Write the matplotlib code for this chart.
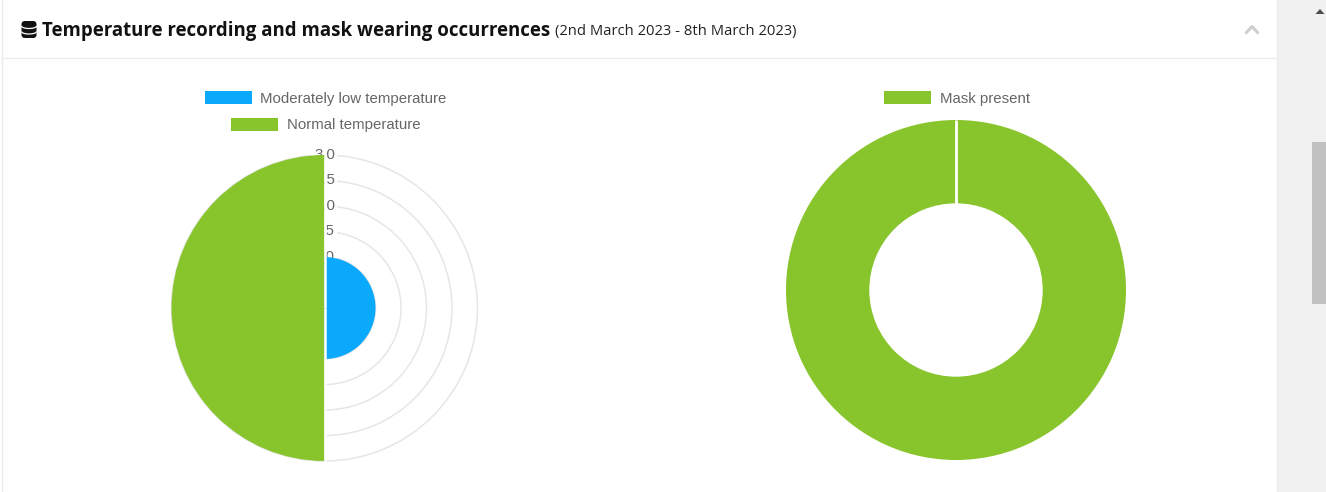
import numpy as np
import matplotlib
matplotlib.use("Agg")
import matplotlib.pyplot as plt
from matplotlib.patches import Rectangle, FancyBboxPatch, Arc

W, H = 1326, 492

# Chart data
temperature_labels = ["Moderately low temperature", "Normal temperature"]
temperature_counts = [1, 3]
mask_labels = ["Mask present"]
mask_counts = [7]
radial_ticks = [0.5, 1.0, 1.5, 2.0, 2.5, 3.0]
radial_tick_labels = ["0.5", "1.0", "1.5", "2.0", "2.5", "3.0"]

title_main = "Temperature recording and mask wearing occurrences"
title_dates = "(2nd March 2023 - 8th March 2023)"

BLUE = "#0aa9fc"
GREEN = "#88c42b"
GREY_TEXT = "#666666"

fig = plt.figure(figsize=(W / 100, H / 100), dpi=100, facecolor="white")


def px_axes(cx, cy, r, **kw):
    """Square axes of radius r px centred on pixel (cx, cy)."""
    return fig.add_axes([(cx - r) / W, 1 - (cy + r) / H, 2 * r / W, 2 * r / H], **kw)


# Page furniture, in pixel coordinates
page = fig.add_axes([0, 0, 1, 1], zorder=0)
page.set_xlim(0, W)
page.set_ylim(H, 0)
page.axis("off")
page.add_patch(Rectangle((1278, 0), 48, H, fc="#f1f1f1", ec="none"))
page.add_patch(Rectangle((1312, 142), 14, 162, fc="#c1c1c1", ec="none"))
page.fill([1315.5, 1320, 1324.5], [14, 9, 14], fc="#505050", ec="none")
page.plot([2, 2], [0, H], color="#ececec", lw=1)
page.plot([1277, 1277], [0, H], color="#ececec", lw=1)
page.plot([2, 1277], [58, 58], color="#ececec", lw=0.9)
page.plot([1245.5, 1252, 1258.5], [33.5, 26.5, 33.5], color="#cfcfcf", lw=2.2,
          solid_capstyle="butt")

# Stacked-disc icon beside the heading
page.add_patch(FancyBboxPatch((22.5, 22), 13, 15, boxstyle="round,pad=1,rounding_size=3.5",
                              fc="#111111", ec="none"))
for y in (26, 31.5):
    page.add_patch(Arc((29, y), 15, 5, theta1=0, theta2=180, color="white", lw=0.9))

page.text(42, 31, title_main, family="Open Sans", weight="bold",
          fontsize=13.41, color="#111111", va="center", ha="left")
page.text(555, 32, title_dates, family="Open Sans", fontsize=10.6,
          color="#222222", va="center", ha="left")

# Legend entries
legend_rows = [
    (204.5, 97.5, temperature_labels[0], BLUE),
    (231, 124.5, temperature_labels[1], GREEN),
    (884, 97.5, mask_labels[0], GREEN),
]
for x, y, label, colour in legend_rows:
    page.add_patch(Rectangle((x, y - 6.5), 47, 12.5, fc=colour, ec="none"))
    page.text(x + 56, y + 1, label, family="Liberation Sans", fontsize=10.8,
              color=GREY_TEXT, va="center", ha="left")

# Polar area chart: two equal sectors whose radius carries the count
polar = px_axes(324.5, 308, 153 * 3.05 / 3, projection="polar", zorder=1)
polar.patch.set_alpha(0)
polar.set_theta_zero_location("N")
polar.set_theta_direction(-1)
polar.set_ylim(0, 3.05)
polar.set_yticks(radial_ticks)
polar.set_yticklabels([])
polar.set_xticks([])
polar.spines["polar"].set_visible(False)
polar.yaxis.grid(True, color="#e6e6e6", lw=1.1)
polar.xaxis.grid(False)

for value, label in zip(radial_ticks[1:], radial_tick_labels[1:]):
    polar.text(0, value, label, family="Liberation Sans", fontsize=10.8,
               color=GREY_TEXT, ha="center", va="center", zorder=3, clip_on=False,
               bbox=dict(fc="white", ec="none", pad=1.5))

sector_angles = [np.pi / 2, 3 * np.pi / 2]
polar.bar(sector_angles, temperature_counts, width=np.pi,
          color=[BLUE, GREEN], edgecolor="none", zorder=4)
# White seam between the two sectors
polar.vlines([0, np.pi], 0, max(temperature_counts), color="white", lw=1.8, zorder=5)

# Doughnut chart with a single full slice and its white seam at twelve o'clock
donut = px_axes(956, 290, 170, zorder=1)
donut.patch.set_alpha(0)
donut.pie(mask_counts, colors=[GREEN], startangle=90, counterclock=False, radius=1.0,
          wedgeprops=dict(width=0.49, edgecolor="none"))
donut.vlines(0, 0.5, 1.0, color="white", lw=2.0, zorder=5)
donut.set_xlim(-1, 1)
donut.set_ylim(-1, 1)

fig.savefig("out.png", dpi=100, facecolor="white")
